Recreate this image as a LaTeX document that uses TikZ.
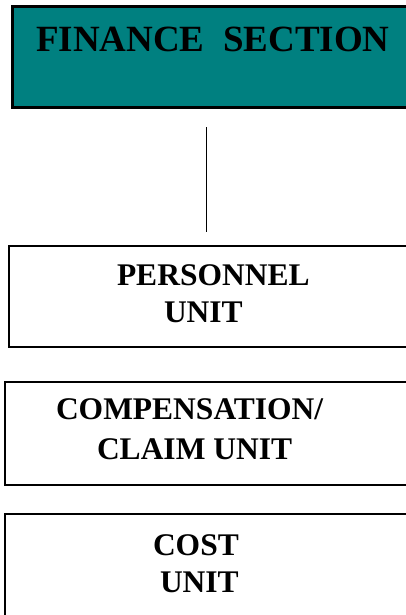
\documentclass[tikz,border=0pt]{standalone}
\usepackage{fontspec}
\setmainfont{Liberation Serif}
\definecolor{tealfill}{HTML}{008080}
\begin{document}
\begin{tikzpicture}[x=1pt,y=-1pt,
  unitbox/.style={draw=black, line width=2pt, inner sep=0pt, outer sep=0pt, anchor=north west},
  label/.style={inner sep=0pt, outer sep=0pt, anchor=base west, font=\bfseries\fontsize{31.5}{36}\selectfont},
  toplabel/.style={inner sep=0pt, outer sep=0pt, anchor=base west, font=\bfseries\fontsize{37}{42}\selectfont},
  link/.style={draw=black, line width=1pt}]
\useasboundingbox (0,0) rectangle (406,615);
\clip (0,0) rectangle (406,615);
\node[unitbox, fill=tealfill, line width=3pt, minimum width=410pt, minimum height=101pt] (fin) at (12.5,6.5) {};
\node[toplabel] (finT) at (36,52) {FINANCE\ \ SECTION};
\coordinate (l1) at (206,127);
\coordinate (l2) at (206,232);
\draw[link] (l1) -- (l2);
\node[unitbox, minimum width=415pt, minimum height=101pt] (pers) at (9,246) {};
\node[label] (persA) at (117,285) {PERSONNEL};
\node[label] (persB) at (164,322) {UNIT};
\node[unitbox, minimum width=415pt, minimum height=103pt] (comp) at (5,382) {};
\node[label] (compA) at (56,419) {COMPENSATION/};
\node[label] (compB) at (97,459) {CLAIM UNIT};
\node[unitbox, minimum width=415pt, minimum height=130pt] (cost) at (5,514) {};
\node[label] (costA) at (153,555) {COST};
\node[label] (costB) at (160,592) {UNIT};
\end{tikzpicture}
\end{document}
